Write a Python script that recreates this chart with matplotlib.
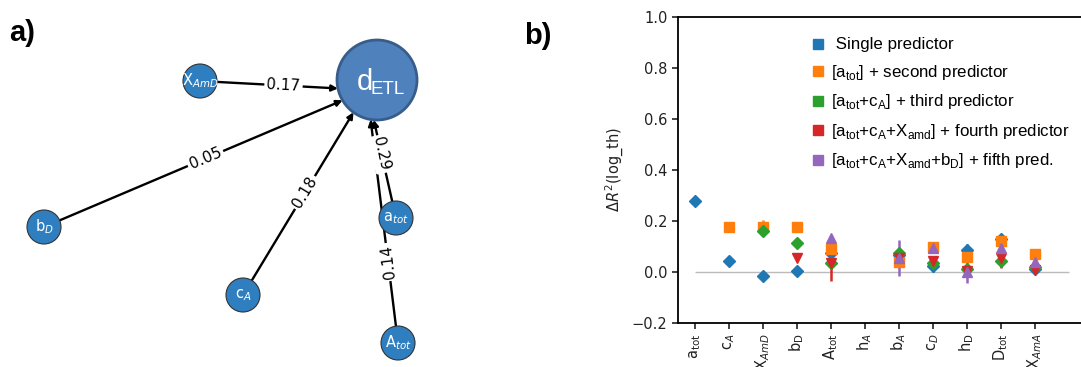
import numpy as np
import matplotlib.pyplot as plt
from matplotlib.patches import Circle, FancyArrowPatch
from matplotlib.lines import Line2D

nan = np.nan

# ---------------- panel b data
predictors = ['a$_{\\mathregular{tot}}$', 'c$_A$', 'X$_{AmD}$', 'b$_{\\mathregular{D}}$',
              'A$_{\\mathregular{tot}}$', 'h$_A$', 'b$_A$', 'c$_D$', 'h$_{\\mathregular{D}}$',
              'D$_{\\mathregular{tot}}$', 'X$_{AmA}$']

single = [0.28, 0.043, -0.015, 0.002, 0.075, nan, 0.065, 0.025, 0.086, 0.13, 0.01]
single_err = [0.01, 0.01, 0.015, 0.012, 0.01, nan, 0.015, 0.025, 0.025, 0.01, 0.015]
second = [nan, 0.176, 0.175, 0.175, 0.09, nan, 0.04, 0.1, 0.06, 0.12, 0.07]
second_err = [nan, 0.006, 0.03, 0.006, 0.015, nan, 0.01, 0.012, 0.01, 0.012, 0.008]
third = [nan, nan, 0.162, 0.113, 0.036, nan, 0.075, 0.035, 0.01, 0.043, 0.02]
third_err = [nan, nan, 0.015, 0.01, 0.01, nan, 0.015, 0.01, 0.008, 0.008, 0.008]
fourth = [nan, nan, nan, 0.055, 0.035, nan, 0.055, 0.045, 0.005, 0.055, 0.008]
fourth_err = [nan, nan, nan, 0.008, 0.07, nan, 0.01, 0.01, 0.008, 0.04, 0.01]
fifth = [nan, nan, nan, nan, 0.135, nan, 0.055, 0.095, 0.0, 0.095, 0.04]
fifth_err = [nan, nan, nan, nan, 0.01, nan, 0.07, 0.01, 0.045, 0.01, 0.01]

legend_labels = [' Single predictor',
                 '[a$_{\\mathregular{tot}}$] + second predictor',
                 '[a$_{\\mathregular{tot}}$+c$_{\\mathregular{A}}$] + third predictor',
                 '[a$_{\\mathregular{tot}}$+c$_{\\mathregular{A}}$+X$_{\\mathregular{amd}}$] + fourth predictor',
                 '[a$_{\\mathregular{tot}}$+c$_{\\mathregular{A}}$+X$_{\\mathregular{amd}}$+b$_{\\mathregular{D}}$] + fifth pred.']

# ---------------- panel a data (layout in pixels)
hub_label = 'd'
hub_sub = 'ETL'
hub_xy = (377, 80)
hub_target = (367, 90)
nodes = ['X$_{AmD}$', 'b$_{D}$', 'c$_{A}$', 'a$_{tot}$', 'A$_{tot}$']
node_x = [200, 44, 243, 396, 398]
node_y = [81, 227, 295, 218, 343]
weights = ['0.17', '0.05', '0.18', '0.29', '0.14']
label_pos = [0.5, 0.5, 0.5, 0.5, 0.32]

W, H = 1081, 367
fig = plt.figure(figsize=(W / 100, H / 100), dpi=100)

#___________________ panel a: network
ax0 = fig.add_axes([0, 0, 540 / W, 1])
ax0.set_xlim(0, 540)
ax0.set_ylim(H, 0)
ax0.axis('off')

R_hub, R_node = 40, 17
hx, hy = hub_xy
for i in range(len(nodes)):
    p = np.array([node_x[i], node_y[i]], float)
    t = np.array(hub_target, float)
    d = t - p
    # where the edge meets the hub circle
    f = p - np.array(hub_xy)
    a = d @ d
    b = 2 * f @ d
    c = f @ f - R_hub ** 2
    s = (-b - np.sqrt(b * b - 4 * a * c)) / (2 * a)
    end = p + s * d
    ax0.add_patch(FancyArrowPatch(p, end, arrowstyle='-|>', mutation_scale=9,
                                  color='black', lw=1.7, shrinkA=0, shrinkB=0, zorder=1))
    lx, ly = p + label_pos[i] * d
    ang = np.degrees(np.arctan2(-d[1], d[0]))
    if ang > 100:
        ang -= 180
    ax0.text(lx, ly, weights[i], rotation=ang, ha='center', va='center', fontsize=11,
             rotation_mode='anchor', zorder=2,
             bbox=dict(boxstyle='round,pad=0.15', fc='white', ec='none'))
    ax0.add_patch(Circle((node_x[i], node_y[i]), R_node, fc='#2f7fc0', ec='#333333',
                         lw=0.8, zorder=3))
    ax0.text(node_x[i], node_y[i], nodes[i], color='white', fontsize=10.5,
             ha='center', va='center', zorder=4)

ax0.add_patch(Circle(hub_xy, R_hub, fc='#4f81bd', ec='#385d8a', lw=2, zorder=3))
ax0.text(hx - 4, hy + 2, hub_label, color='white', fontsize=21, family='Liberation Sans',
         ha='right', va='center', zorder=4)
ax0.text(hx - 6, hy + 9, hub_sub, color='white', fontsize=13.5, family='Liberation Sans',
         ha='left', va='center', zorder=4)

fig.text(9 / W, 1 - 33 / H, 'a)', fontsize=21, fontweight='bold',
         family='Liberation Sans', va='center')
fig.text(524 / W, 1 - 36 / H, 'b)', fontsize=21, fontweight='bold',
         family='Liberation Sans', va='center')

#___________________ panel b: scatter with error bars
ax = fig.add_axes([678 / W, 1 - 323 / H, 408 / W, 306 / H])
x = np.arange(len(predictors))
series = [(single, single_err, '#1f77b4', 'D', 6.5),
          (second, second_err, '#ff7f0e', 's', 7.5),
          (third, third_err, '#2ca02c', 'D', 6.5),
          (fourth, fourth_err, '#d62728', 'v', 7.5),
          (fifth, fifth_err, '#9467bd', '^', 7.5)]
for vals, errs, col, mk, ms in series:
    ax.errorbar(x, vals, yerr=errs, fmt=mk, color=col, ms=ms, elinewidth=1.8,
                capsize=0, zorder=3)
ax.hlines(0, 0, len(predictors), color='#bbbbbb', lw=1, zorder=1)

ax.set_xlim(-0.5, len(predictors) + 0.5)
ax.set_ylim(-0.2, 1.0)
ax.set_yticks(np.arange(-0.2, 1.01, 0.2))
ax.set_xticks(x)
ax.set_xticklabels(predictors, rotation=90, fontsize=10.5)
ax.tick_params(labelsize=10.5, colors='#222222', width=1.2, length=4)
ax.set_ylabel('$\\Delta R^2$(log_th)', fontsize=10.5, color='#222222', labelpad=4)
for sp in ax.spines.values():
    sp.set_linewidth(1.3)

handles = [Line2D([], [], ls='', marker='s', ms=7, color=s[2]) for s in series]
ax.legend(handles, legend_labels, loc='upper left', bbox_to_anchor=(804 / W, 1 - 29 / H),
          bbox_transform=fig.transFigure, frameon=False, handlelength=0.6,
          handletextpad=0.5, labelspacing=0.62, borderpad=0,
          prop={'family': 'Liberation Sans', 'size': 12.2})

fig.savefig('out.png', dpi=100)
